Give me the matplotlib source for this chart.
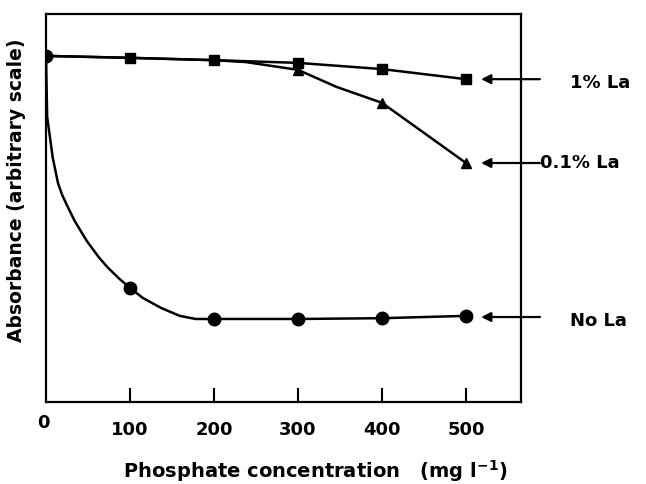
import matplotlib.pyplot as plt

plt.rcParams['font.family'] = 'DejaVu Sans'
plt.rcParams['font.weight'] = 'bold'

# Absorbance (arbitrary units, 0-100) against phosphate concentration
conc = [0, 100, 200, 300, 400, 500]
la_1pct = [89.2, 88.7, 88.1, 87.4, 85.8, 83.2]
la_01pct = [89.2, 88.7, 88.1, 85.6, 77.1, 61.6]
no_la = [89.2, 29.4, 21.4, 21.4, 21.6, 22.2]

# hand-drawn smooth curves through the measured points
no_la_curve_x = [0, 1.4, 8.0, 14.3, 19.0, 24.3, 34.3, 48.6, 62.9, 72.9, 87.1, 100,
                 115.4, 137.4, 159.3, 178.0, 200, 300, 400, 500]
no_la_curve_y = [89.2, 73.5, 63.0, 56.4, 53.5, 51.0, 46.6, 41.5, 37.3, 34.8, 31.8, 29.4,
                 26.8, 24.2, 22.2, 21.4, 21.4, 21.4, 21.6, 22.2]
la_01_curve_x = [0, 100, 200, 238, 300, 346, 400, 462, 500]
la_01_curve_y = [89.2, 88.7, 88.1, 87.6, 85.6, 81.2, 77.1, 67.5, 61.6]

labels = ['1% La', '0.1% La', 'No La']
label_x = [624, 588, 624]
label_dy = [-1.0, 0.0, -1.0]
arrow_y = [83.2, 61.6, 21.9]

fig = plt.figure(figsize=(6.46, 4.84), dpi=100)
ax = fig.add_axes([0.0712, 0.1694, 0.7353, 0.8017])

lw = 1.8
ax.plot(conc, la_1pct, color='black', lw=lw, marker='s', markersize=7,
        markevery=[1, 2, 3, 4, 5], zorder=3)
ax.plot(la_01_curve_x, la_01_curve_y, color='black', lw=lw, zorder=2)
ax.plot(conc[3:], la_01pct[3:], ls='none', color='black', marker='^', markersize=7, zorder=2)
ax.plot(no_la_curve_x, no_la_curve_y, color='black', lw=lw, zorder=2)
ax.plot(conc, no_la, ls='none', color='black', marker='o', markersize=9, zorder=4)

# arrows pointing at the end of each curve, with labels
for lab, lx, dy, ay in zip(labels, label_x, label_dy, arrow_y):
    ax.annotate('', xy=(518, ay), xytext=(588, ay), annotation_clip=False,
                arrowprops=dict(arrowstyle='-|>', color='black', lw=1.6,
                                mutation_scale=14, shrinkA=0, shrinkB=0))
    ax.text(lx, ay + dy, lab, fontsize=13, fontweight='bold', va='center', ha='left',
            clip_on=False)

ax.set_xlim(0, 565.5)
ax.set_ylim(0, 100)
ax.set_xticks([100, 200, 300, 400, 500])
ax.set_xticklabels(['100', '200', '300', '400', '500'])
ax.set_yticks([])
ax.tick_params(axis='x', direction='in', length=10, width=1.5, pad=14, labelsize=13)
ax.text(-3, -5.5, '0', fontsize=13, fontweight='bold', ha='center', va='center', clip_on=False)

for s in ax.spines.values():
    s.set_linewidth(1.6)

ax.set_xlabel('Phosphate concentration   (mg l$^{\\mathbf{-1}}$)', fontsize=14,
              fontweight='bold')
ax.xaxis.set_label_coords(0.566, -0.145)
ax.set_ylabel('Absorbance (arbitrary scale)', fontsize=13.5, fontweight='bold')
ax.yaxis.set_label_coords(-0.042, 0.546)

fig.savefig('out.png', dpi=100)
